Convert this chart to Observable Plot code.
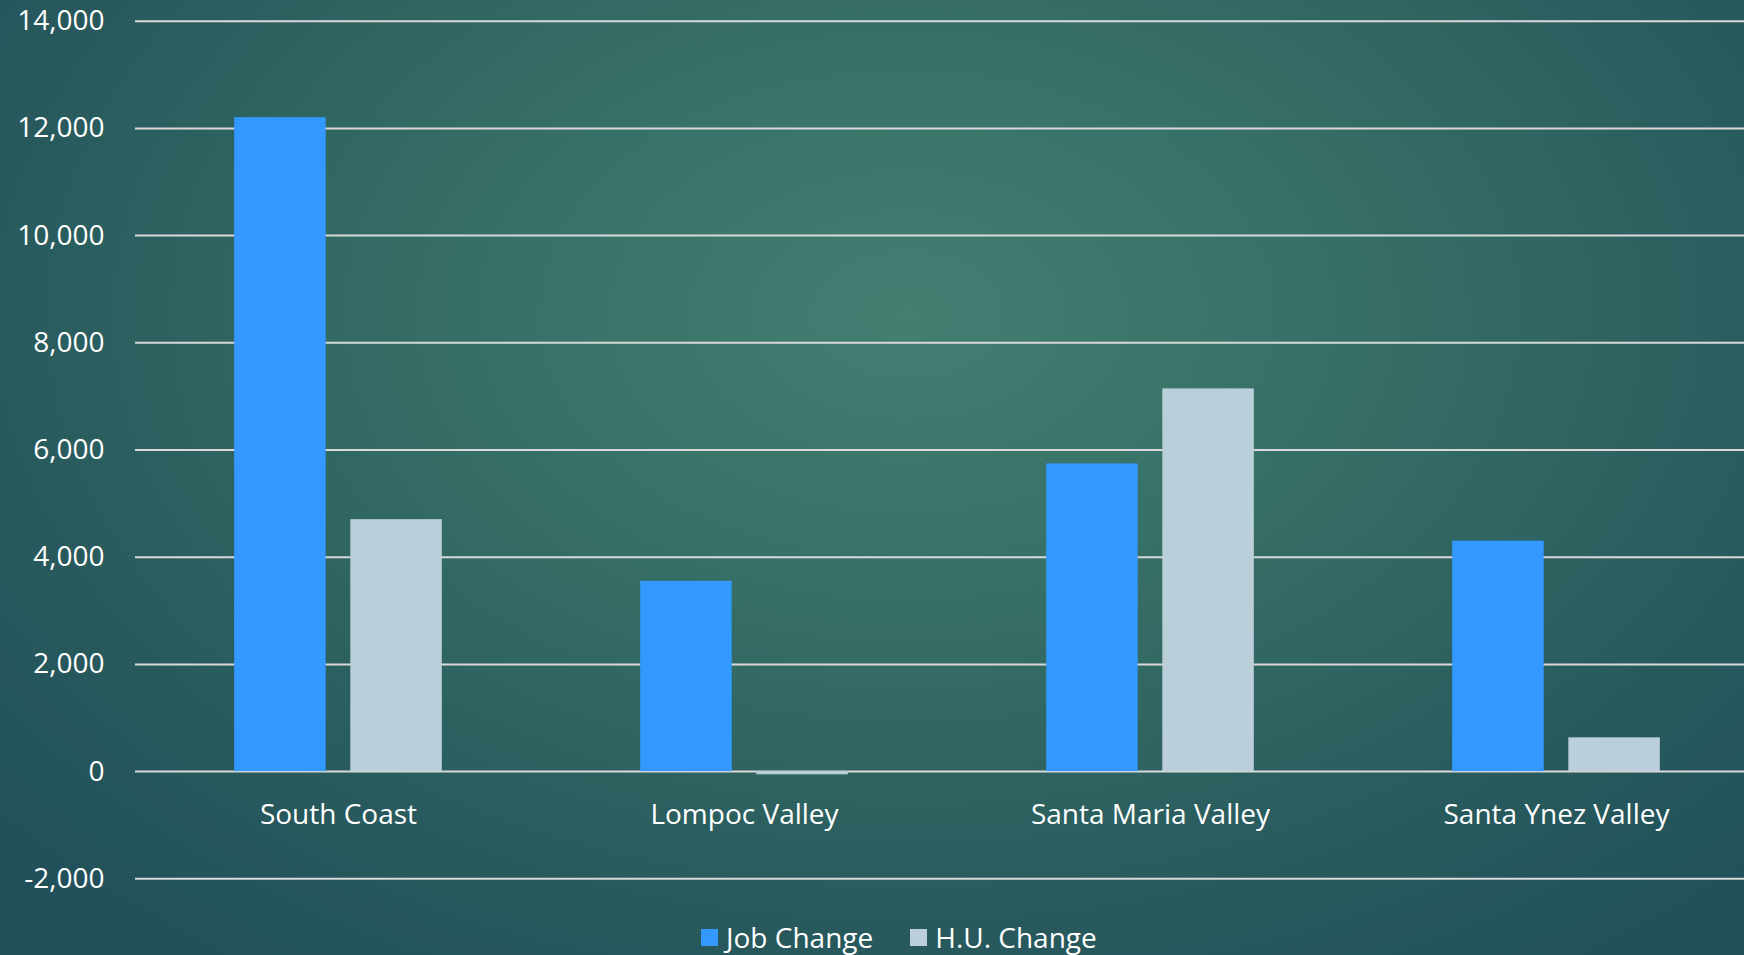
<!DOCTYPE html>
<html>
<head>
<meta charset="utf-8">
<script src="https://cdn.jsdelivr.net/npm/d3@7"></script>
<script src="https://cdn.jsdelivr.net/npm/@observablehq/plot@0.6"></script>
<style>
  html, body { margin: 0; padding: 0; overflow: hidden; }
  #wrap {
    position: relative; width: 1744px; height: 955px; overflow: hidden;
    background: radial-gradient(ellipse 70% 85% at 52% 33%, #427f71 0%, #356d65 40%, #285a5d 75%, #21505a 100%);
    font-family: "Open Sans", sans-serif;
  }
  #chart { position: absolute; left: 0; top: 0; width: 1760px; }
  #legend {
    position: absolute; left: 701px; top: 918px; display: flex; align-items: center;
    color: #ffffff; font-size: 28px; line-height: 38px; white-space: nowrap;
  }
  #legend .item { display: flex; align-items: center; margin-right: 37px; }
  #legend .sw { width: 17px; height: 17px; margin-right: 8px; }
</style>
</head>
<body>
<div id="wrap">
  <div id="chart"></div>
  <div id="legend"></div>
</div>
<script>
const regions = ["South Coast", "Lompoc Valley", "Santa Maria Valley", "Santa Ynez Valley"];
const series = ["Job Change", "H.U. Change"];
const jobChange = [12200, 3550, 5740, 4300];
const huChange = [4700, -60, 7140, 630];
const yTicks = [-2000, 0, 2000, 4000, 6000, 8000, 10000, 12000, 14000];
const colors = ["#3399ff", "#bacfd9"];

const data = regions.flatMap((r, i) => [
  {region: r, series: series[0], value: jobChange[i]},
  {region: r, series: series[1], value: huChange[i]}
]);

const chart = Plot.plot({
  width: 1760,
  height: 910,
  marginLeft: 133,
  marginRight: 0,
  marginTop: 20.7,
  marginBottom: 31.7,
  style: {background: "transparent", color: "#ffffff", fontFamily: "'Open Sans', sans-serif", fontSize: "28px", overflow: "visible", maxWidth: "none"},
  fx: {domain: regions, padding: 0, axis: null},
  x: {domain: series, paddingInner: 0.212, paddingOuter: 0.854, axis: null, round: false},
  y: {domain: [yTicks[0], yTicks[yTicks.length - 1]], ticks: yTicks, tickFormat: d => d.toLocaleString("en-US"), tickSize: 0, tickPadding: 31, label: null},
  color: {domain: series, range: colors},
  marks: [
    Plot.ruleY(yTicks, {stroke: "#d9d9d9", strokeWidth: 2}),
    Plot.barY(data, {fx: "region", x: "series", y: "value", fill: "series"}),
    Plot.text(regions, {fx: d => d, y: () => 0, text: d => d, dy: 52, lineAnchor: "bottom", fill: "#ffffff", fontSize: 28})
  ]
});
chart.style.maxWidth = "none";
chart.setAttribute("width", 1760);
document.getElementById("chart").appendChild(chart);

const legend = d3.select("#legend");
series.forEach((s, i) => {
  const item = legend.append("div").attr("class", "item");
  item.append("div").attr("class", "sw").style("background", colors[i]);
  item.append("span").text(s);
});
</script>
</body>
</html>
